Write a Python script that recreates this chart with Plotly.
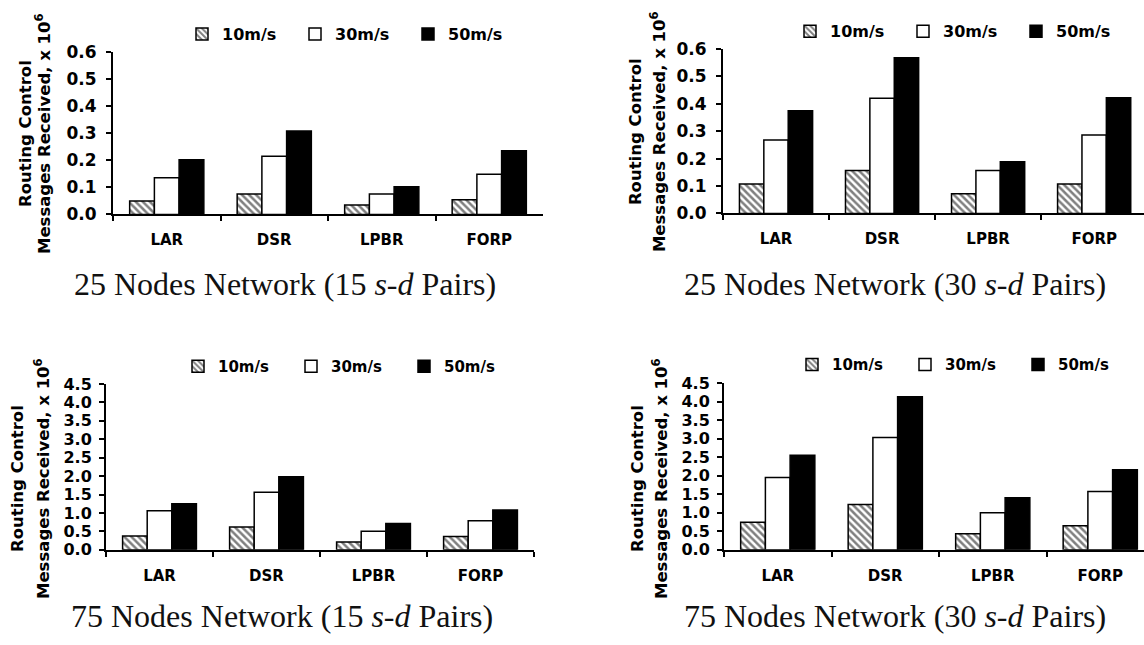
import plotly.graph_objects as go

W, H = 1144, 645

categories = ["LAR", "DSR", "LPBR", "FORP"]
speeds = ["10m/s", "30m/s", "50m/s"]

# Routing control messages received (x 10^6)
p1_10 = [0.050, 0.075, 0.035, 0.054]
p1_30 = [0.135, 0.215, 0.075, 0.148]
p1_50 = [0.202, 0.308, 0.102, 0.235]

p2_10 = [0.107, 0.157, 0.072, 0.107]
p2_30 = [0.268, 0.420, 0.157, 0.286]
p2_50 = [0.374, 0.567, 0.188, 0.422]

p3_10 = [0.37, 0.62, 0.21, 0.36]
p3_30 = [1.06, 1.56, 0.50, 0.79]
p3_50 = [1.25, 1.98, 0.71, 1.08]

p4_10 = [0.74, 1.22, 0.43, 0.65]
p4_30 = [1.95, 3.03, 1.00, 1.57]
p4_50 = [2.55, 4.13, 1.40, 2.16]

top_ticks = [0.0, 0.1, 0.2, 0.3, 0.4, 0.5, 0.6]
top_ticktext = ["0.0", "0.1", "0.2", "0.3", "0.4", "0.5", "0.6"]
bot_ticks = [0.0, 0.5, 1.0, 1.5, 2.0, 2.5, 3.0, 3.5, 4.0, 4.5]
bot_ticktext = ["0.0", "0.5", "1.0", "1.5", "2.0", "2.5", "3.0", "3.5", "4.0", "4.5"]

captions = [
    "25 Nodes Network (15 <i>s-d</i> Pairs)",
    "25 Nodes Network (30 <i>s-d</i> Pairs)",
    "75 Nodes Network (15 <i>s-d</i> Pairs)",
    "75 Nodes Network (30 <i>s-d</i> Pairs)",
]
ytitle1 = "Routing Control"
ytitle2 = "Messages Received, x 10<sup>6</sup>"

panels = [
    dict(data=(p1_10, p1_30, p1_50), x0=113, x1=543, ytop=43, ybot=211, xr=[-0.5, 3.5],
         yr=[0, 0.6], tv=top_ticks, tt=top_ticktext, tfs=17, ysd=6,
         leg_x=182, leg_y=25, t1x=25, t2x=43, ty=128, cap=(285, 283), lfs=16),
    dict(data=(p2_10, p2_30, p2_50), x0=723, x1=1144, ytop=40, ybot=210, xr=[-0.5, 3.47],
         yr=[0, 0.6], tv=top_ticks, tt=top_ticktext, tfs=17, ysd=6,
         leg_x=790, leg_y=22, t1x=635, t2x=658, ty=126, cap=(895, 283), lfs=16),
    dict(data=(p3_10, p3_30, p3_50), x0=106, x1=534, ytop=386, ybot=557, xr=[-0.5, 3.5],
         yr=[0, 4.5], tv=bot_ticks, tt=bot_ticktext, tfs=16, ysd=4,
         leg_x=178, leg_y=368, t1x=18, t2x=42, ty=484, cap=(282, 625), lfs=15),
    dict(data=(p4_10, p4_30, p4_50), x0=724, x1=1144, ytop=385, ybot=557, xr=[-0.5, 3.407],
         yr=[0, 4.5], tv=bot_ticks, tt=bot_ticktext, tfs=16, ysd=4,
         leg_x=792, leg_y=366, t1x=637, t2x=660, ty=483, cap=(895, 625), lfs=15),
]

fig = go.Figure()
layout = dict(
    width=W, height=H, margin=dict(l=0, r=0, t=0, b=0),
    paper_bgcolor="white", plot_bgcolor="white",
    barmode="group", bargap=0.31, bargroupgap=0.0,
    annotations=[], showlegend=True,
)

bold = dict(family="DejaVu Sans", color="black", weight="bold")

for i, p in enumerate(panels):
    n = "" if i == 0 else str(i + 1)
    xa, ya, lg = "x" + n, "y" + n, "legend" + n
    v10, v30, v50 = p["data"]
    fig.add_trace(go.Bar(
        x=categories, y=v10, name=speeds[0], xaxis=xa, yaxis=ya, legend=lg,
        marker=dict(color="white", line=dict(color="black", width=1.5),
                    pattern=dict(shape="\\", fgcolor="black", bgcolor="white",
                                 size=5, solidity=0.5)),
    ))
    fig.add_trace(go.Bar(
        x=categories, y=v30, name=speeds[1], xaxis=xa, yaxis=ya, legend=lg,
        marker=dict(color="white", line=dict(color="black", width=1.5)),
    ))
    fig.add_trace(go.Bar(
        x=categories, y=v50, name=speeds[2], xaxis=xa, yaxis=ya, legend=lg,
        marker=dict(color="black", line=dict(color="black", width=1.5)),
    ))
    layout["xaxis" + n] = dict(
        domain=[p["x0"] / W, p["x1"] / W], range=p["xr"], anchor=ya,
        type="category", showline=True, linecolor="black", linewidth=2,
        ticks="outside", tickson="boundaries", ticklen=5, tickwidth=2, tickcolor="black",
        showgrid=False, zeroline=False, fixedrange=True,
        tickfont=dict(size=15, **bold), ticklabelstandoff=11,
    )
    layout["yaxis" + n] = dict(
        domain=[1 - p["ybot"] / H, 1 - p["ytop"] / H], range=p["yr"], anchor=xa,
        showline=True, linecolor="black", linewidth=2,
        ticks="outside", ticklen=5, tickwidth=2, tickcolor="black",
        tickvals=p["tv"], ticktext=p["tt"],
        showgrid=False, zeroline=False, fixedrange=True,
        tickfont=dict(size=p["tfs"], **bold), ticklabelstandoff=p["ysd"],
    )
    layout[lg] = dict(
        orientation="h", x=p["leg_x"] / W, y=1 - p["leg_y"] / H,
        xanchor="left", yanchor="middle", bgcolor="rgba(0,0,0,0)",
        font=dict(size=p["lfs"], **bold), entrywidth=68, entrywidthmode="pixels",
        itemclick=False, itemdoubleclick=False,
    )
    layout["annotations"] += [
        dict(text=ytitle1, x=p["t1x"] / W, y=1 - p["ty"] / H, xref="paper", yref="paper",
             textangle=-90, showarrow=False, xanchor="center", yanchor="middle",
             font=dict(size=16.5, **bold)),
        dict(text=ytitle2, x=p["t2x"] / W, y=1 - p["ty"] / H, xref="paper", yref="paper",
             textangle=-90, showarrow=False, xanchor="center", yanchor="middle",
             font=dict(size=16.5, **bold)),
        dict(text=captions[i], x=p["cap"][0] / W, y=1 - p["cap"][1] / H,
             xref="paper", yref="paper", showarrow=False,
             xanchor="center", yanchor="middle",
             font=dict(family="Liberation Serif", size=32, color="#111")),
    ]

fig.update_layout(**layout)
fig.write_html(
    "out.html",
    config={"displayModeBar": False},
    post_script="document.body.style.margin='0px';document.body.style.overflow='hidden';",
)
